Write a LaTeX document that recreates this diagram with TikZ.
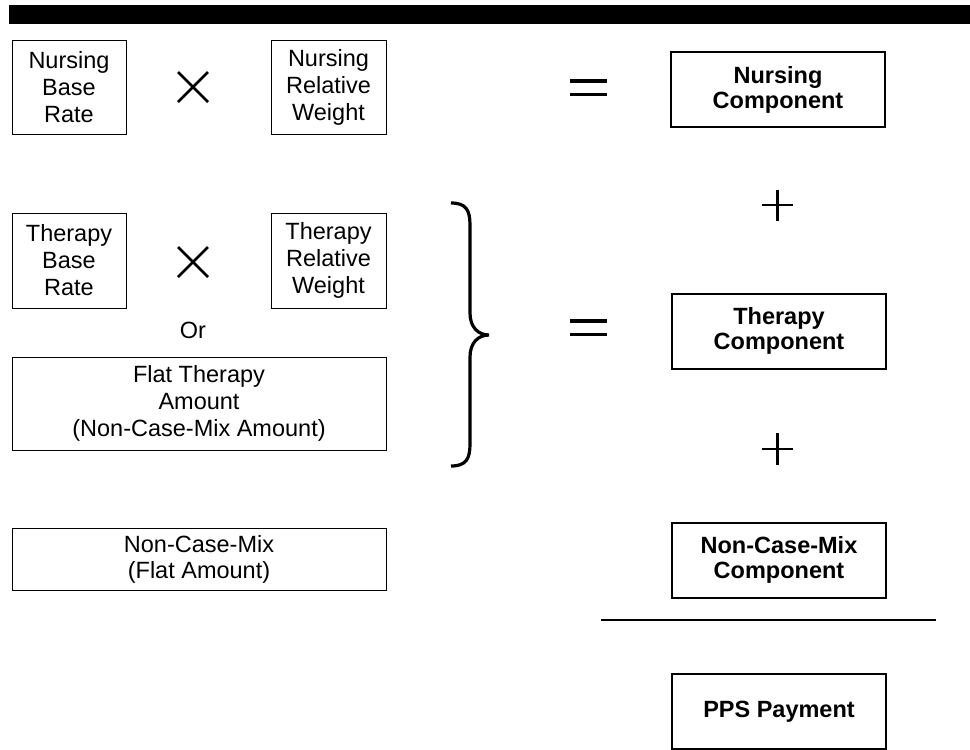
\documentclass[tikz,border=0pt]{standalone}
\usepackage{fontspec}
\setmainfont{Liberation Sans}
\tikzset{
  factor/.style={draw, line width=0.8pt, align=center, inner sep=0pt,
    font=\fontsize{23.5}{27}\selectfont},
  component/.style={draw, line width=2pt, align=center, inner sep=0pt,
    minimum width=214, minimum height=75, font=\fontsize{23.5}{25}\selectfont\bfseries},
  op/.style={line width=2.8pt},
  eq/.style={line width=3.6pt}
}
\begin{document}
\begin{tikzpicture}[x=1pt,y=-1pt]
  \useasboundingbox (0,0) rectangle (970,750);
  \fill (9,5) rectangle (970,24);
  % nursing row
  \node[factor, minimum width=114, minimum height=94] (nbase) at (69,87.5) {Nursing\\Base\\Rate};
  \node[factor, minimum width=115, minimum height=94] (nweight) at (328.5,87.5) {Nursing\\Relative\\Weight};
  \draw[op] (178,72) -- (208,102) (178,102) -- (208,72);
  \draw[eq] (570,81) -- (607,81) (570,94.5) -- (607,94.5);
  \node[component] (ncomp) at (778,89.5) {Nursing\\Component};
  \draw[op] (762,205) -- (793,205) (777.5,190) -- (777.5,221);
  % therapy rows
  \node[factor, minimum width=114, minimum height=95] (tbase) at (69,260.5) {Therapy\\Base\\Rate};
  \node[factor, minimum width=115, minimum height=95] (tweight) at (328.5,260.5) {Therapy\\Relative\\Weight};
  \draw[op] (178,247) -- (208,277) (178,277) -- (208,247);
  \node[font=\fontsize{23.5}{27}\selectfont] (or) at (193,330) {Or};
  \node[factor, minimum width=374, minimum height=93] (tflat) at (199,403.5) {Flat Therapy\\Amount\\(Non-Case-Mix Amount)};
  \draw[line width=3.2pt] (451,203) .. controls (466,203) and (470,210) .. (470,225) -- (470,313)
    .. controls (470,327) and (478,335) .. (489,335)
    .. controls (478,335) and (470,343) .. (470,357) -- (470,444)
    .. controls (470,459) and (466,466) .. (451,466);
  \draw[eq] (570,321) -- (607,321) (570,334.5) -- (607,334.5);
  \node[component] (tcomp) at (779,331) {Therapy\\Component};
  \draw[op] (762,449) -- (793,449) (777.5,433) -- (777.5,465);
  % non-case-mix row
  \node[factor, minimum width=374, minimum height=62, font=\fontsize{23.5}{26}\selectfont] (flat) at (199,559) {Non-Case-Mix\\(Flat Amount)};
  \node[component] (nccomp) at (779,560) {Non-Case-Mix\\Component};
  \draw[line width=2pt] (601,620) -- (936,620);
  \node[component] (pps) at (779,711.5) {PPS Payment};
\end{tikzpicture}
\end{document}
